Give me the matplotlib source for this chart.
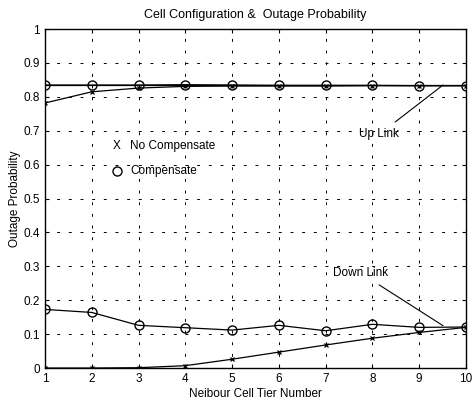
import matplotlib
matplotlib.use("Agg")
import matplotlib.pyplot as plt
import numpy as np

plt.rcParams['font.family'] = ['Liberation Sans', 'DejaVu Sans']

tiers = [1, 2, 3, 4, 5, 6, 7, 8, 9, 10]
up_comp = [0.835, 0.835, 0.835, 0.836, 0.835, 0.834, 0.834, 0.834, 0.833, 0.833]
up_nocomp = [0.782, 0.815, 0.826, 0.831, 0.832, 0.832, 0.832, 0.833, 0.833, 0.833]
down_comp = [0.173, 0.164, 0.126, 0.119, 0.112, 0.126, 0.110, 0.129, 0.120, 0.121]
down_nocomp = [0.0, 0.0, 0.001, 0.007, 0.026, 0.047, 0.068, 0.088, 0.105, 0.120]
up_ref = 0.835

fig = plt.figure(figsize=(4.74, 4.04), dpi=100)
ax = fig.add_axes([0.095, 0.089, 0.888, 0.839])

lw = 0.9
ax.plot(tiers, up_comp, color='black', lw=lw, marker='o', ms=6.5, mfc='none', mew=1.0)
ax.plot(tiers, up_nocomp, color='black', lw=lw, marker='x', ms=3.5, mew=0.9)
ax.plot([tiers[0], tiers[-1]], [up_ref, up_ref], color='black', lw=lw)
ax.plot(tiers, down_comp, color='black', lw=lw, marker='o', ms=6.5, mfc='none', mew=1.0)
ax.plot(tiers, down_nocomp, color='black', lw=lw, marker='x', ms=3.5, mew=0.9)

ax.set_xlim(1, 10)
ax.set_ylim(0, 1)
ax.set_xticks(tiers)
ax.set_yticks(np.arange(0, 1.01, 0.1))
ax.set_yticklabels(['0', '0.1', '0.2', '0.3', '0.4', '0.5', '0.6', '0.7', '0.8', '0.9', '1'])
ax.tick_params(direction='in', top=True, right=True, labelsize=8.5, length=3, width=0.8)
ax.grid(True, color='black', lw=0.7, linestyle=(0, (3, 9)))
for s in ax.spines.values():
    s.set_linewidth(1.0)

ax.set_title('Cell Configuration &  Outage Probability', fontsize=9, pad=8)
ax.set_xlabel('Neibour Cell Tier Number', fontsize=8.5, labelpad=2)
ax.set_ylabel('Outage Probability', fontsize=8.5, labelpad=2)

ax.annotate('Up Link', xy=(9.51, up_ref), xytext=(8.15, 0.69), fontsize=8.5,
            ha='center', va='center',
            arrowprops=dict(arrowstyle='-', color='black', lw=0.8, shrinkA=4, shrinkB=0))
ax.annotate('Down Link', xy=(9.51, 0.125), xytext=(7.75, 0.28), fontsize=8.5,
            ha='center', va='center',
            arrowprops=dict(arrowstyle='-', color='black', lw=0.8, shrinkA=4, shrinkB=0))

ax.text(2.54, 0.656, 'X', fontsize=8.5, ha='center', va='center')
ax.text(2.82, 0.656, 'No Compensate', fontsize=8.5, ha='left', va='center')
ax.plot([2.54], [0.582], marker='o', ms=6.5, mfc='none', mec='black', mew=1.0)
ax.text(2.82, 0.582, 'Compensate', fontsize=8.5, ha='left', va='center')

fig.savefig('out.png', dpi=100)
